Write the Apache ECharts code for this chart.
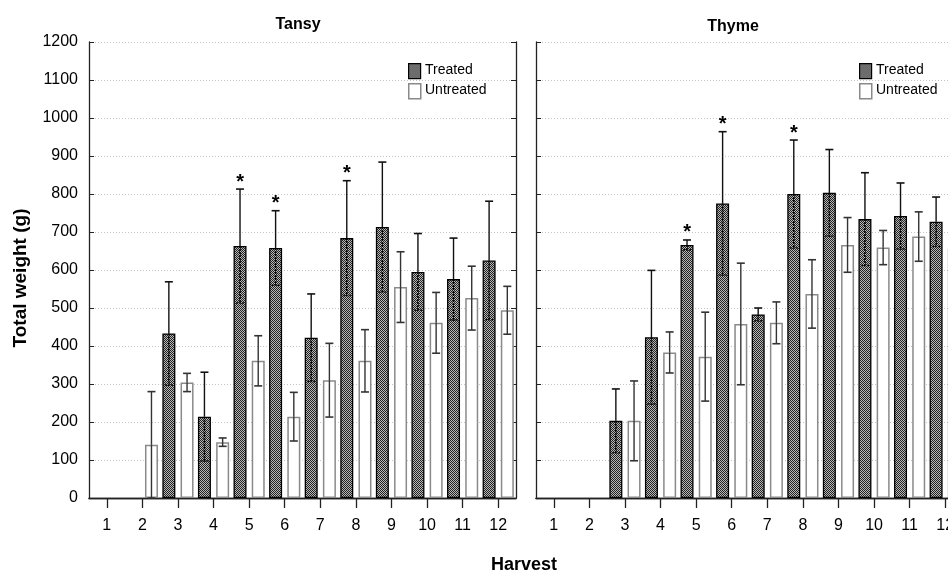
<!DOCTYPE html>
<html><head><meta charset="utf-8">
<script src="https://cdn.jsdelivr.net/npm/echarts@6/dist/echarts.min.js"></script>
<style>html,body{margin:0;padding:0;background:#fff;overflow:hidden;width:948px;height:572px}#c{width:990px;height:572px}</style>
</head><body><div id="c"></div>
<script>
const harvests = ['1','2','3','4','5','6','7','8','9','10','11','12'];
const yTicks = [0,100,200,300,400,500,600,700,800,900,1000,1100,1200];
// Tansy
const tansyTreated   = [null, null, 433, 214, 663, 658, 422, 684, 713, 595, 576, 625];
const tansyTreatedErr= [null, null, 136, 117, 150, 98, 115, 151, 171, 101, 108, 156];
const tansyUntreated = [null, 140, 304, 147, 361, 214, 310, 361, 555, 461, 526, 494];
const tansyUntreatedErr=[null, 140, 24, 11, 66, 64, 97, 82, 93, 80, 84, 63];
const tansyStar      = [0,0,0,0,1,1,0,1,0,0,0,0];
// Thyme
const thymeTreated   = [null, null, 203, 423, 666, 775, 483, 800, 803, 734, 742, 727];
const thymeTreatedErr= [null, null, 84, 176, 13, 189, 17, 142, 114, 122, 87, 65];
const thymeUntreated = [null, null, 203, 383, 372, 458, 461, 537, 666, 659, 688, 655];
const thymeUntreatedErr=[null, null, 105, 54, 117, 160, 55, 90, 72, 45, 65, 50];
const thymeStar      = [0,0,0,0,1,1,0,1,0,0,0,0];

const pc = document.createElement('canvas');
pc.width = 2; pc.height = 2;
const pctx = pc.getContext('2d');
pctx.fillStyle = '#b8b8b8'; pctx.fillRect(0,0,2,2);
pctx.fillStyle = '#222'; pctx.fillRect(0,0,1,1); pctx.fillRect(1,1,1,1);

const BW = 13, GAP = 5.2, OFF = (BW + GAP) / 2;
const FONT = 'Liberation Sans, Arial, sans-serif';

function errSeries(gi, vals, errs, stars, side, dark) {
  const data = vals.map((v, i) => v == null ? null : [i, v, errs[i], stars[i]]).filter(d => d);
  return {
    type: 'custom', xAxisIndex: gi*2, yAxisIndex: gi*2, z: 5, clip: false,
    data: data,
    renderItem: function (params, api) {
      const i = api.value(0), v = api.value(1), e = api.value(2), s = api.value(3);
      const lo = Math.max(0, v - e), hi = v + e;
      const pv = api.coord([i, v]), ph = api.coord([i, hi]), pl = api.coord([i, lo]);
      const x = pv[0] + side * OFF;
      const col = dark ? '#111' : '#333';
      const ch = [
        {type:'line', shape:{x1:x, y1:pv[1], x2:x, y2:ph[1]}, style:{stroke:col, lineWidth:1.4}},
        {type:'line', shape:{x1:x-4, y1:ph[1], x2:x+4, y2:ph[1]}, style:{stroke:col, lineWidth:1.6}},
        {type:'line', shape:{x1:x, y1:pv[1], x2:x, y2:pl[1]}, style:{stroke: dark ? '#000' : col, lineWidth: dark ? 1.6 : 1.4, lineDash: dark ? [2,1] : null}},
        {type:'line', shape:{x1:x-4, y1:pl[1], x2:x+4, y2:pl[1]}, style:{stroke:col, lineWidth:1.6, lineDash: dark ? [2,1] : null}}
      ];
      if (s) ch.push({type:'text', style:{x:x, y:ph[1]-7, text:'*', fill:'#000', font:'bold 20px ' + FONT, align:'center', verticalAlign:'middle'}});
      return {type:'group', children: ch};
    }
  };
}

function barSeries(gi, name, vals, dark) {
  return {
    type: 'bar', name: name, xAxisIndex: gi*2, yAxisIndex: gi*2,
    data: vals, barWidth: BW, barGap: (GAP/BW*100).toFixed(1) + '%',
    itemStyle: dark ? {color: {image: pc, repeat: 'repeat'}, borderColor: '#000', borderWidth: 1.3}
                    : {color: '#fff', borderColor: '#8a8a8a', borderWidth: 1.5},
    emphasis: {disabled: true}
  };
}

const grids = [
  {left: 89, top: 42, width: 427, height: 456},
  {left: 536, top: 42, width: 427, height: 456}
];
const xAxes = [], yAxes = [];
grids.forEach((g, gi) => {
  xAxes.push({type:'category', gridIndex: gi, data: harvests, boundaryGap: true,
    axisLine:{lineStyle:{color:'#222', width:1.3}}, axisTick:{show:true, alignWithLabel:true, length:10, lineStyle:{color:'#222', width:1.3}},
    axisLabel:{color:'#000', fontSize:16, fontFamily: FONT, margin:20}});
  xAxes.push({type:'category', gridIndex: gi, position:'top', data: harvests,
    axisLine:{show:true, lineStyle:{color:'#222', width:1.3}}, axisTick:{show:false}, axisLabel:{show:false}});
  yAxes.push({type:'value', gridIndex: gi, min:yTicks[0], max:yTicks[yTicks.length-1], interval:yTicks[1]-yTicks[0],
    axisLine:{show:true, lineStyle:{color:'#222', width:1.3}}, axisTick:{show:true, inside:true, length:5, lineStyle:{color:'#222'}},
    axisLabel:{show: gi === 0, color:'#000', fontSize:16, fontFamily: FONT, margin:11, formatter: v => String(v)},
    splitLine:{show:true, lineStyle:{color:'#c4c4c4', type:[1,2], width:1}}});
  yAxes.push({type:'value', gridIndex: gi, min:yTicks[0], max:yTicks[yTicks.length-1], interval:yTicks[1]-yTicks[0], position:'right',
    axisLine:{show:true, lineStyle:{color:'#222', width:1.3}}, axisTick:{show:true, inside:true, length:5, lineStyle:{color:'#222'}},
    axisLabel:{show:false}, splitLine:{show:false}});
});

const legendGraphic = (lx, ly) => ([
  {type:'rect', left: lx, top: ly, shape:{width:12, height:15}, style:{fill:{image: pc, repeat:'repeat'}, stroke:'#000', lineWidth:1.2}},
  {type:'text', left: lx+17, top: ly, style:{text:'Treated', fill:'#000', font:'14px ' + FONT}},
  {type:'rect', left: lx, top: ly+20, shape:{width:12, height:15}, style:{fill:'#fff', stroke:'#8a8a8a', lineWidth:1.5}},
  {type:'text', left: lx+17, top: ly+20, style:{text:'Untreated', fill:'#000', font:'14px ' + FONT}}
]);

const chart = echarts.init(document.getElementById('c'), null, {renderer:'canvas'});
chart.setOption({
  animation: false,
  backgroundColor: '#fff',
  graphic: [
    ...legendGraphic(408, 63),
    ...legendGraphic(859, 63),
    {type:'text', x: 298, y: 25, style:{text:'Tansy', fill:'#000', font:'bold 16px ' + FONT, align:'center', verticalAlign:'middle'}},
    {type:'text', x: 733, y: 27, style:{text:'Thyme', fill:'#000', font:'bold 16px ' + FONT, align:'center', verticalAlign:'middle'}},
    {type:'group', x: 21, y: 278, rotation: Math.PI/2, children: [
      {type:'text', style:{x:0, y:0, text:'Total weight (g)', fill:'#000', font:'bold 19px ' + FONT, align:'center', verticalAlign:'middle'}}
    ]},
    {type:'text', x: 524, y: 565, style:{text:'Harvest', fill:'#000', font:'bold 18px ' + FONT, align:'center', verticalAlign:'middle'}}
  ],
  grid: grids, xAxis: xAxes, yAxis: yAxes,
  series: [
    barSeries(0, 'Treated', tansyTreated, true),
    barSeries(0, 'Untreated', tansyUntreated, false),
    errSeries(0, tansyTreated, tansyTreatedErr, tansyStar, -1, true),
    errSeries(0, tansyUntreated, tansyUntreatedErr, tansyStar.map(() => 0), 1, false),
    barSeries(1, 'Treated', thymeTreated, true),
    barSeries(1, 'Untreated', thymeUntreated, false),
    errSeries(1, thymeTreated, thymeTreatedErr, thymeStar, -1, true),
    errSeries(1, thymeUntreated, thymeUntreatedErr, thymeStar.map(() => 0), 1, false)
  ]
});
</script></body></html>
